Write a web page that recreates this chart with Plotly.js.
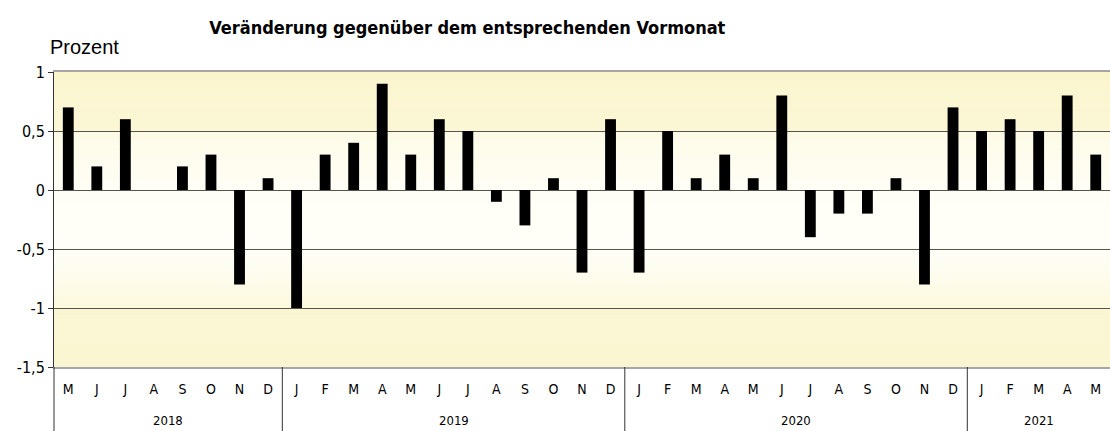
<!DOCTYPE html>
<html>
<head>
<meta charset="utf-8">
<script src="https://cdn.plot.ly/plotly-3.0.1.min.js"></script>
<style>html,body{margin:0;padding:0;background:#fff;}#chart{width:1110px;height:431px;}</style>
</head>
<body>
<div id="chart"></div>
<script>
// ---- data ----
const years = [
  '2018','2018','2018','2018','2018','2018','2018','2018',
  '2019','2019','2019','2019','2019','2019','2019','2019','2019','2019','2019','2019',
  '2020','2020','2020','2020','2020','2020','2020','2020','2020','2020','2020','2020',
  '2021','2021','2021','2021','2021'
];
const months = [
  'M','J','J','A','S','O','N','D',
  'J','F','M','A','M','J','J','A','S','O','N','D',
  'J','F','M','A','M','J','J','A','S','O','N','D',
  'J','F','M','A','M'
];
const values = [
  0.7, 0.2, 0.6, 0.0, 0.2, 0.3, -0.8, 0.1,
  -1.0, 0.3, 0.4, 0.9, 0.3, 0.6, 0.5, -0.1, -0.3, 0.1, -0.7, 0.6,
  -0.7, 0.5, 0.1, 0.3, 0.1, 0.8, -0.4, -0.2, -0.2, 0.1, -0.8, 0.7,
  0.5, 0.6, 0.5, 0.8, 0.3
];
const yTickVals = [-1.5, -1, -0.5, 0, 0.5, 1];
const yTickText = ['-1,5', '-1', '-0,5', '0', '0,5', '1'];
const titleText = 'Veränderung gegenüber dem entsprechenden Vormonat';
const unitText = 'Prozent';

const idx = values.map((_, i) => i);

// ---- background gradient (decoration) ----
const gradStops = [
  [1.0, [250, 245, 203]],
  [0.5, [251, 247, 214]],
  [0.4999, [253, 251, 230]],
  [0.0, [255, 254, 246]],
  [-0.5, [255, 254, 248]],
  [-1.0, [252, 249, 222]],
  [-1.0001, [250, 246, 210]],
  [-1.5, [250, 246, 210]]
];
function colAt(y) {
  for (let i = 0; i < gradStops.length - 1; i++) {
    const a = gradStops[i], b = gradStops[i + 1];
    if (y <= a[0] && y >= b[0]) {
      const t = (a[0] - y) / (a[0] - b[0] || 1);
      const c = a[1].map((v, k) => Math.round(v + (b[1][k] - v) * t));
      return 'rgb(' + c.join(',') + ')';
    }
  }
  return 'rgb(255,255,255)';
}
const shapes = [];
const step = 0.025;
for (let y0 = -1.5; y0 < 1 - 1e-9; y0 += step) {
  const mid = y0 + step / 2;
  shapes.push({
    type: 'rect', xref: 'paper', yref: 'y', layer: 'below',
    x0: 0, x1: 1, y0: y0, y1: Math.min(1, y0 + step + 0.002),
    fillcolor: colAt(mid), line: {width: 0}
  });
}
// left axis line continuing through label area
shapes.push({type: 'line', xref: 'paper', yref: 'paper', x0: 0, x1: 0, y0: 0, y1: -0.22,
  line: {color: '#333333', width: 1}});

// year groups: dividers + labels
const annotations = [];
let start = 0;
for (let i = 1; i <= years.length; i++) {
  if (i === years.length || years[i] !== years[start]) {
    annotations.push({
      text: years[start], xref: 'x', yref: 'paper',
      x: (start + i - 1) / 2, y: -0.18, xanchor: 'center', yanchor: 'middle',
      showarrow: false,
      font: {family: '"DejaVu Sans Condensed", sans-serif', size: 13, color: '#000000'}
    });
    if (i < years.length) {
      shapes.push({type: 'line', xref: 'x', yref: 'paper', x0: i - 0.5, x1: i - 0.5,
        y0: 0, y1: -0.22, line: {color: '#333333', width: 1}});
    }
    start = i;
  }
}
annotations.push({
  text: unitText, xref: 'paper', yref: 'paper',
  x: -0.0057, xanchor: 'left', y: 1.085, yanchor: 'middle',
  showarrow: false,
  font: {family: '"Liberation Sans", Arial, sans-serif', size: 20, color: '#000000'}
});

const narrow = '"DejaVu Sans Condensed", "Liberation Sans Narrow", sans-serif';

const trace = {
  type: 'bar',
  x: idx,
  y: values,
  marker: {color: '#000000', line: {width: 0}},
  hoverinfo: 'y'
};

const layout = {
  width: 1110, height: 431,
  margin: {l: 54, r: 0, t: 72, b: 64},
  paper_bgcolor: '#ffffff',
  plot_bgcolor: '#ffffff',
  showlegend: false,
  bargap: 0.62,
  separators: ',.',
  title: {
    text: '<b>' + titleText + '</b>',
    font: {family: narrow, size: 18, color: '#000000'},
    xref: 'container', x: 0.421, xanchor: 'center',
    yref: 'container', y: 0.935, yanchor: 'middle'
  },
  xaxis: {
    range: [-0.5, values.length - 0.5],
    tickvals: idx, ticktext: months,
    showgrid: false, zeroline: false,
    showline: true, linecolor: '#a6a6a6', linewidth: 2, mirror: true,
    ticks: 'outside', ticklen: 8, tickcolor: 'rgba(0,0,0,0)',
    tickfont: {family: narrow, size: 14, color: '#000000'},
    fixedrange: true
  },
  yaxis: {
    range: [-1.5, 1],
    tickvals: yTickVals, ticktext: yTickText,
    showgrid: true, gridcolor: '#55554a', gridwidth: 1,
    zeroline: false,
    showline: true, linecolor: '#333333', linewidth: 1,
    ticks: 'outside', ticklen: 5, tickcolor: '#333333',
    tickfont: {family: narrow, size: 16, color: '#000000'},
    fixedrange: true
  },
  shapes: shapes,
  annotations: annotations
};

Plotly.newPlot('chart', [trace], layout, {displayModeBar: false, staticPlot: true});
</script>
</body>
</html>
